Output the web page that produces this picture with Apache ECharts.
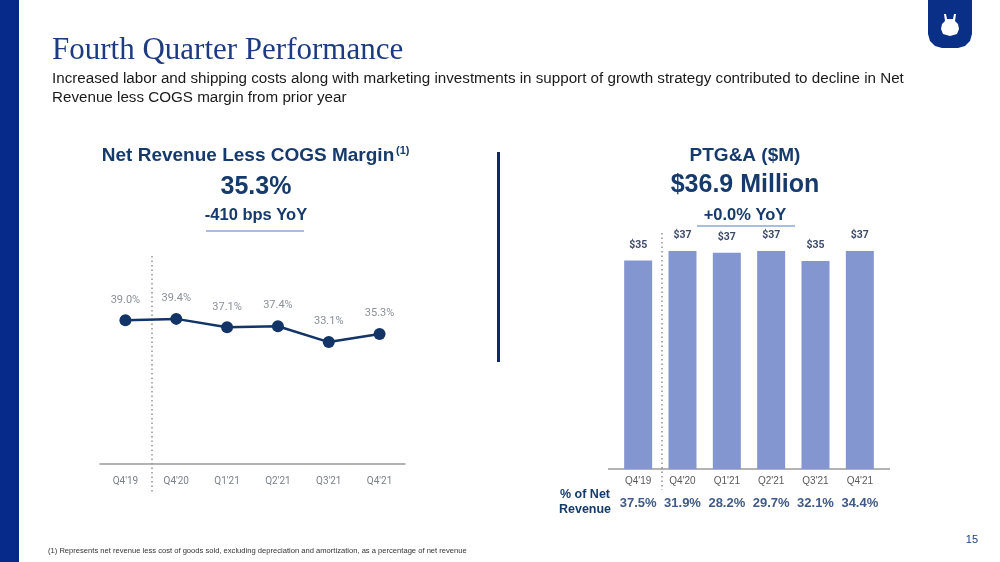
<!DOCTYPE html>
<html><head><meta charset="utf-8">
<script src="https://cdn.jsdelivr.net/npm/echarts@6/dist/echarts.min.js"></script>
<style>html,body{margin:0;padding:0;background:#fff}#c{width:1000px;height:562px}</style>
</head><body><div id="c"></div>
<script>
const quarters = ["Q4'19","Q4'20","Q1'21","Q2'21","Q3'21","Q4'21"];
const marginPct = [39.0, 39.4, 37.1, 37.4, 33.1, 35.3];
const ptgaValues = [35.3, 36.9, 36.6, 36.9, 35.2, 36.9];
const ptgaLabels = ["$35","$37","$37","$37","$35","$37"];
const pctNetRevenue = ["37.5%","31.9%","28.2%","29.7%","32.1%","34.4%"];

const navy = '#163a6b';
const sans = 'Liberation Sans, Arial, sans-serif';
const chart = echarts.init(document.getElementById('c'), null, {renderer:'canvas'});

chart.setOption({
  animation:false,
  backgroundColor:'#fff',
  grid:[
    {left:100, right:595, top:243, bottom:98},
    {left:616, right:118, top:232.7, bottom:93}
  ],
  xAxis:[
    {gridIndex:0, type:'category', data:quarters, boundaryGap:true,
     axisLine:{lineStyle:{color:'#9a9a9a', width:1.5}}, axisTick:{show:false},
     axisLabel:{interval:0, color:'#7a7f88', fontSize:10, fontFamily:'Roboto, sans-serif', margin:12}},
    {gridIndex:1, type:'category', data:quarters,
     axisLine:{show:false}, axisTick:{show:false},
     axisLabel:{interval:0, color:'#5a5a5a', fontSize:10, fontFamily:sans, margin:7}},
    {gridIndex:1, type:'category', data:pctNetRevenue, position:'bottom', offset:28,
     axisLine:{show:false}, axisTick:{show:false},
     axisLabel:{interval:0, hideOverlap:false, color:'#3f5a86', fontSize:13, fontWeight:'bold', fontFamily:sans, margin:0}}
  ],
  yAxis:[
    {gridIndex:0, type:'value', min:0, max:60, show:false, splitLine:{show:false}},
    {gridIndex:1, type:'value', min:0, max:40, show:false, splitLine:{show:false}}
  ],
  series:[
    {type:'line', xAxisIndex:0, yAxisIndex:0, data:marginPct,
     lineStyle:{color:'#123466', width:2.5}, itemStyle:{color:'#123466'},
     symbol:'circle', symbolSize:12,
     label:{show:true, position:'top', distance:9, color:'#8a8f98', fontSize:11,
            fontFamily:'Roboto, sans-serif', formatter:p=>p.value.toFixed(1)+'%'}},
    {type:'bar', xAxisIndex:1, yAxisIndex:1, data:ptgaValues, barWidth:28,
     itemStyle:{color:'#8496cf'},
     label:{show:true, position:'top', distance:10, color:'#3d4b6a', fontSize:10.5,
            fontWeight:'bold', fontFamily:'Roboto, sans-serif',
            formatter:p=>ptgaLabels[p.dataIndex]}}
  ],
  graphic:[
    {type:'rect', shape:{x:0,y:0,width:19,height:562}, style:{fill:'#062a8a'}},
    // logo
    {type:'polygon', shape:{points:[[928,0],[972,0],[972,34],[970,41],[965,46],[958,48],[942,48],[935,46],[930,41],[928,34]]}, style:{fill:'#0a2f86'}},
    {type:'polygon', shape:{points:[[944,14],[946,14],[947,19],[953,19],[954,14],[956,14],[955,21],[958,24],[959,29],[957,34],[950,36],[943,34],[941,29],[942,24],[945,21]]}, style:{fill:'#fff'}},
    {type:'text', left:52, top:35, style:{text:'Fourth Quarter Performance', fill:'#1d3b80', font:'31px "Liberation Serif", "DejaVu Serif", serif'}},
    {type:'text', left:52, top:69, style:{text:'Increased labor and shipping costs along with marketing investments in support of growth strategy contributed to decline in Net\nRevenue less COGS margin from prior year', fill:'#1a1a1a', font:'15.2px '+sans, lineHeight:19}},
    // left headings
    {type:'text', x:248, y:156, style:{text:'Net Revenue Less COGS Margin', fill:navy, font:'bold 19px '+sans, align:'center', verticalAlign:'middle'}},
    {type:'text', x:396, y:151, style:{text:'(1)', fill:navy, font:'bold 11px '+sans, align:'left', verticalAlign:'middle'}},
    {type:'text', x:256, y:187, style:{text:'35.3%', fill:navy, font:'bold 25px '+sans, align:'center', verticalAlign:'middle'}},
    {type:'text', x:256, y:215, style:{text:'-410 bps YoY', fill:navy, font:'bold 16.5px '+sans, align:'center', verticalAlign:'middle'}},
    {type:'line', shape:{x1:206,y1:231,x2:304,y2:231}, style:{stroke:'#a9bde0', lineWidth:2}},
    {type:'line', shape:{x1:152,y1:256,x2:152,y2:493}, style:{stroke:'#777', lineWidth:1.2, lineDash:[1.5,3]}},
    // divider
    {type:'rect', shape:{x:497,y:152,width:3,height:210}, style:{fill:'#0b2a6e'}},
    // right headings
    {type:'text', x:745, y:156, style:{text:'PTG&A ($M)', fill:navy, font:'bold 19px '+sans, align:'center', verticalAlign:'middle'}},
    {type:'text', x:745, y:185, style:{text:'$36.9 Million', fill:navy, font:'bold 25px '+sans, align:'center', verticalAlign:'middle'}},
    {type:'text', x:745, y:215, style:{text:'+0.0% YoY', fill:navy, font:'bold 16.5px '+sans, align:'center', verticalAlign:'middle'}},
    {type:'line', shape:{x1:697,y1:226,x2:795,y2:226}, style:{stroke:'#a9bde0', lineWidth:2}},
    {type:'line', shape:{x1:608,y1:469,x2:890,y2:469}, style:{stroke:'#9a9a9a', lineWidth:1.5}},
    {type:'line', shape:{x1:662,y1:233,x2:662,y2:490}, style:{stroke:'#777', lineWidth:1.2, lineDash:[1.5,3]}},
    {type:'text', x:585, y:502, style:{text:'% of Net\nRevenue', fill:navy, font:'bold 12.5px '+sans, align:'center', verticalAlign:'middle', lineHeight:15}},
    // footer
    {type:'text', left:48, top:547, style:{text:'(1) Represents net revenue less cost of goods sold, excluding depreciation and amortization, as a percentage of net revenue', fill:'#333', font:'7.6px '+sans}},
    {type:'text', x:978, y:540, style:{text:'15', fill:'#1d3b80', font:'11px '+sans, align:'right', verticalAlign:'middle'}}
  ]
});
</script></body></html>
